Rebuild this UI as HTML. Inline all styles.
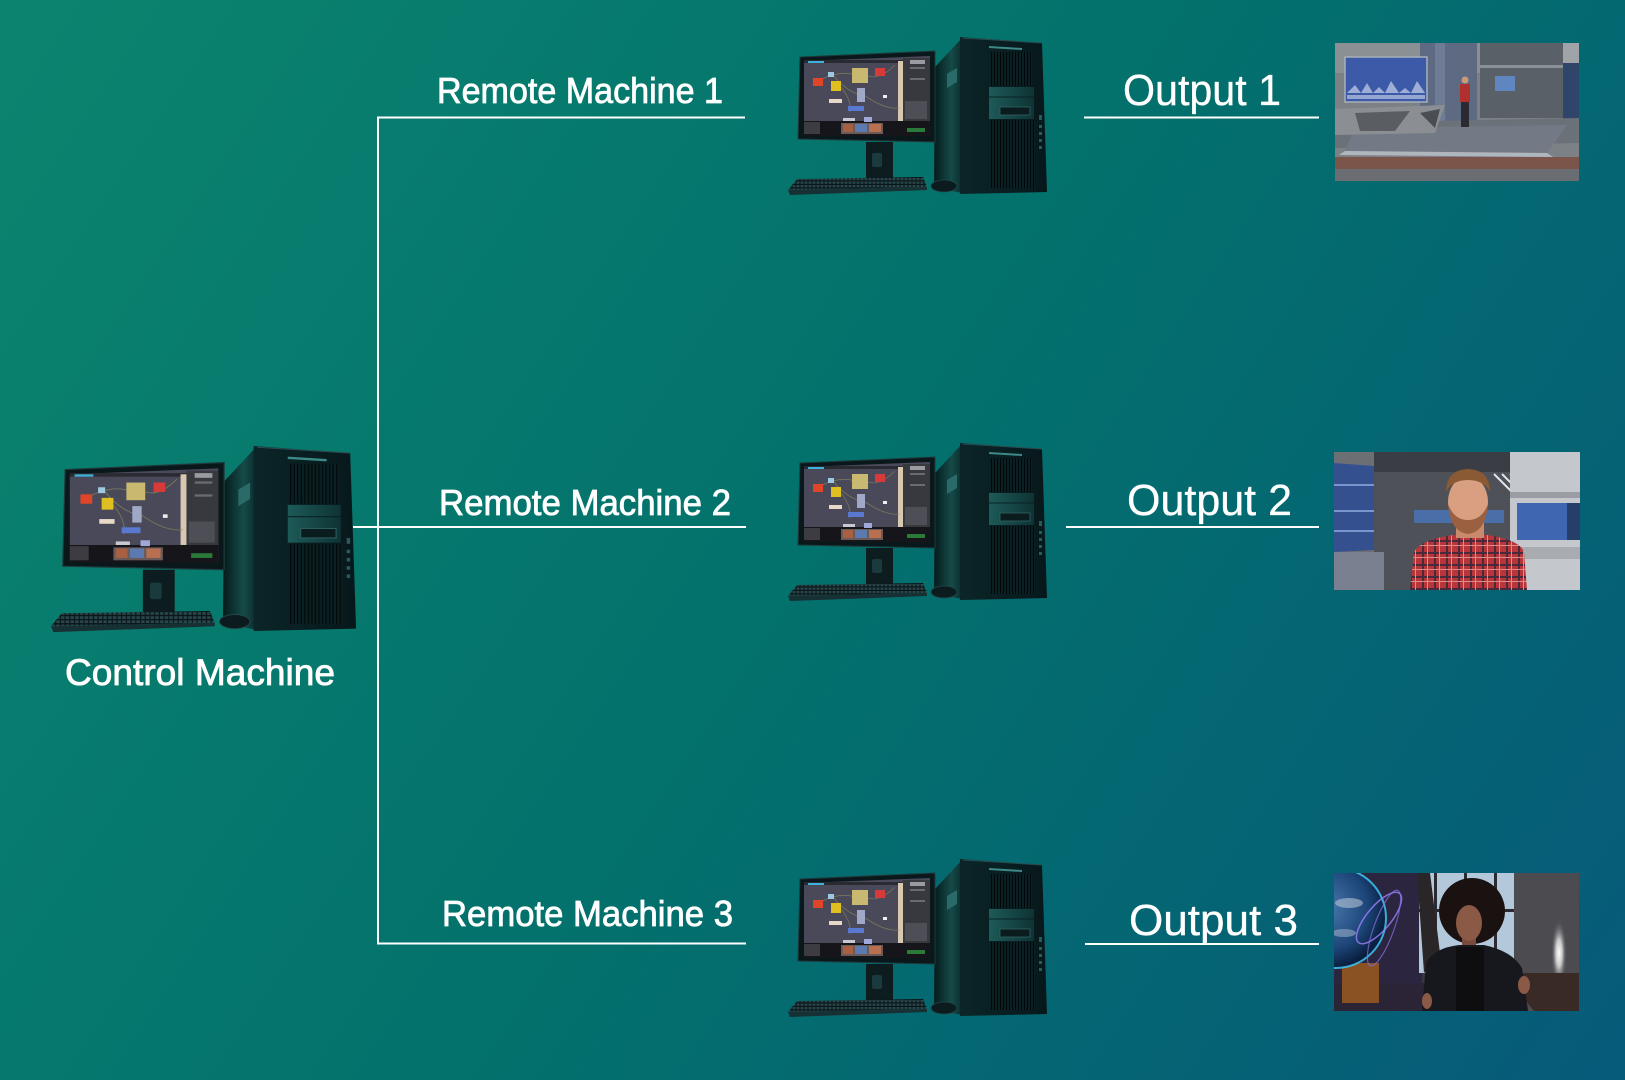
<!DOCTYPE html>
<html><head><meta charset="utf-8"><style>
html,body{margin:0;padding:0;width:1625px;height:1080px;overflow:hidden;background:#05706c}
svg{display:block}
text{font-family:"Liberation Sans",sans-serif;fill:#fff;stroke:#fff;stroke-width:0.5}
</style></head><body>
<svg width="1625" height="1080" viewBox="0 0 1625 1080" xmlns="http://www.w3.org/2000/svg">
<defs>
<linearGradient id="bg" gradientUnits="userSpaceOnUse" x1="0" y1="0" x2="1625" y2="1080">
<stop offset="0" stop-color="#0b846f"/><stop offset="0.5" stop-color="#03716c"/><stop offset="1" stop-color="#065a7a"/>
</linearGradient>
<linearGradient id="side" x1="0" y1="0" x2="1" y2="0">
<stop offset="0" stop-color="#061a1c"/><stop offset="0.6" stop-color="#154b48"/><stop offset="1" stop-color="#0a2a2b"/>
</linearGradient>
<linearGradient id="front" x1="0" y1="0" x2="1" y2="0">
<stop offset="0" stop-color="#0c2528"/><stop offset="1" stop-color="#07181b"/>
</linearGradient>
<linearGradient id="bay" x1="0" y1="0" x2="1" y2="0">
<stop offset="0" stop-color="#1d5a58"/><stop offset="1" stop-color="#0f3334"/>
</linearGradient>
<pattern id="vent" width="3" height="10" patternUnits="userSpaceOnUse"><rect width="3" height="10" fill="#0b2023"/><rect width="1" height="10" fill="#020809"/></pattern>
<pattern id="keys" width="4" height="3.5" patternUnits="userSpaceOnUse"><rect width="4" height="3.5" fill="#0a1619"/><rect x="0.5" y="0.5" width="3" height="2.3" fill="#29474b"/></pattern>
<pattern id="plaid" width="12" height="12" patternUnits="userSpaceOnUse"><rect width="12" height="12" fill="#b8363a"/><rect x="0" y="4" width="12" height="2" fill="#4a2a3a"/><rect x="4" y="0" width="2" height="12" fill="#4a2a3a"/><rect x="9" y="0" width="1" height="12" fill="#e08a8a"/><rect x="0" y="9" width="12" height="1" fill="#e08a8a"/></pattern>
<radialGradient id="globe" cx="0.4" cy="0.4" r="0.6"><stop offset="0" stop-color="#4a7ab0"/><stop offset="0.7" stop-color="#1c4578"/><stop offset="1" stop-color="#0a2040"/></radialGradient>
<radialGradient id="spot" cx="0.5" cy="0.5" r="0.5"><stop offset="0" stop-color="#ffffff"/><stop offset="0.4" stop-color="#e8e8e8" stop-opacity="0.8"/><stop offset="1" stop-color="#4c4b50" stop-opacity="0"/></radialGradient>
<g id="pc">
 <polygon points="175,47 203,17 203,173 174,168" fill="url(#side)"/>
 <polygon points="187,54 197,48 197,62 187,68" fill="#2a6a68"/>
 <polygon points="200,17 282,23 287,172 200,174" fill="url(#front)"/>
 <line x1="203" y1="18" x2="282" y2="23" stroke="#2a4c50" stroke-width="1"/>
 <polygon points="229,26 262,28 262,30 229,28" fill="#3c8a88"/>
 <rect x="230" y="32" width="42" height="34" fill="url(#vent)"/>
 <rect x="229" y="67" width="45" height="32" fill="url(#bay)"/>
 <line x1="229" y1="77" x2="274" y2="77" stroke="#0a2224" stroke-width="1"/>
 <rect x="240" y="87" width="30" height="8" fill="#0a1c1e" stroke="#2f6262" stroke-width="0.8"/>
 <rect x="230" y="100" width="45" height="68" fill="url(#vent)"/>
 <rect x="279" y="95" width="3" height="5" fill="#2a5a5a"/>
 <rect x="279" y="105" width="3" height="3" fill="#2a5a5a"/>
 <rect x="279" y="112" width="3" height="3" fill="#2a5a5a"/>
 <rect x="279" y="119" width="3" height="3" fill="#2a5a5a"/>
 <rect x="279" y="126" width="3" height="3" fill="#2a5a5a"/>
 <polygon points="40,37 175,31 175,122 38,119" fill="#0b181b" stroke="#1f3b3e" stroke-width="1"/>
 <polygon points="44,41 170,36 170,116 44,115" fill="#49495a"/>
 <rect x="44" y="40" width="126" height="3" fill="#2a2a32"/>
 <rect x="48" y="41" width="16" height="2" fill="#3fb0d8"/>
 <rect x="143" y="38" width="27" height="63" fill="#38383f"/>
 <rect x="138" y="41" width="5" height="60" fill="#d8c8b0"/>
 <rect x="150" y="40" width="15" height="4" fill="#9a9aa2"/>
 <rect x="150" y="47" width="15" height="2" fill="#6a6a72"/>
 <rect x="150" y="58" width="15" height="2" fill="#6a6a72"/>
 <rect x="145" y="81" width="22" height="18" fill="#4e4e56"/>
 <rect x="44" y="101" width="126" height="15" fill="#16161a"/>
 <rect x="44" y="102" width="16" height="12" fill="#3c3c42"/>
 <rect x="81" y="103" width="42" height="11" fill="#6a5a5a"/>
 <rect x="83" y="104" width="10" height="8" fill="#a86040"/>
 <rect x="95" y="104" width="12" height="8" fill="#5a7ab0"/>
 <rect x="109" y="104" width="12" height="8" fill="#b87050"/>
 <rect x="147" y="108" width="18" height="4" fill="#2a7a3a"/>
 <path d="M60,60 Q80,50 95,55 M74,56 Q85,70 100,75 M108,56 Q120,60 135,45 M80,66 Q92,80 90,92 M104,75 Q125,90 140,88" stroke="#8a8a5a" stroke-width="0.8" fill="none" opacity="0.7"/>
 <rect x="53" y="58" width="10" height="8" fill="#e0452a"/>
 <rect x="92" y="48" width="16" height="15" fill="#c8b870"/>
 <rect x="115" y="48" width="10" height="8" fill="#d83a3a"/>
 <rect x="68" y="52" width="6" height="5" fill="#9ec8e0"/>
 <rect x="71" y="61" width="10" height="10" fill="#e0c020"/>
 <rect x="97" y="68" width="8" height="14" fill="#a0a8c8"/>
 <rect x="123" y="75" width="4" height="3" fill="#eee"/>
 <rect x="69" y="79" width="13" height="4" fill="#e8d8c8"/>
 <rect x="88" y="86" width="16" height="5" fill="#5a78d0"/>
 <rect x="83" y="98" width="12" height="3" fill="#c8c8d0"/>
 <rect x="104" y="97" width="8" height="5" fill="#a0a8d8"/>
 <rect x="106" y="122" width="27" height="38" fill="#0c1c1f"/>
 <rect x="112" y="133" width="10" height="14" rx="2" fill="#1b3a3d"/>
 <polygon points="37,159 163,157 167,167 28,170" fill="url(#keys)"/>
 <polygon points="28,170 167,167 167,170 30,175" fill="#173034"/>
 <ellipse cx="184" cy="166" rx="13" ry="6" fill="#0c1b1e" stroke="#24474a" stroke-width="0.8"/>
</g>
</defs>
<rect width="1625" height="1080" fill="url(#bg)"/>

<use href="#pc" transform="translate(760,20)"/>
<use href="#pc" transform="translate(760,426)"/>
<use href="#pc" transform="translate(760,842)"/>
<use href="#pc" transform="translate(18,426) scale(1.178)"/>

<g stroke="#fff" stroke-width="2" fill="none">
 <line x1="378" y1="116.5" x2="378" y2="944.5"/>
 <line x1="377" y1="117.5" x2="745" y2="117.5"/>
 <line x1="353" y1="527" x2="746" y2="527"/>
 <line x1="377" y1="943.5" x2="746" y2="943.5"/>
 <line x1="1084" y1="117.5" x2="1319" y2="117.5"/>
 <line x1="1066" y1="527" x2="1319" y2="527"/>
 <line x1="1085" y1="944" x2="1319" y2="944"/>
</g>

<text x="437" y="103" font-size="36" textLength="286" lengthAdjust="spacingAndGlyphs" style="stroke-width:0.8">Remote Machine 1</text>
<text x="439" y="515" font-size="36" textLength="292" lengthAdjust="spacingAndGlyphs" style="stroke-width:0.8">Remote Machine 2</text>
<text x="442" y="926" font-size="36" textLength="291" lengthAdjust="spacingAndGlyphs" style="stroke-width:0.8">Remote Machine 3</text>
<text x="65" y="685" font-size="37" textLength="270" lengthAdjust="spacingAndGlyphs" style="stroke-width:0.8">Control Machine</text>
<text x="1123" y="105" font-size="44" textLength="158" lengthAdjust="spacingAndGlyphs" style="stroke-width:0.3">Output 1</text>
<text x="1127" y="515" font-size="44" textLength="165" lengthAdjust="spacingAndGlyphs" style="stroke-width:0.3">Output 2</text>
<text x="1129" y="935" font-size="44" textLength="169" lengthAdjust="spacingAndGlyphs" style="stroke-width:0.3">Output 3</text>

<!-- Output 1 -->
<svg x="1335" y="43" width="244" height="138" viewBox="0 0 244 138">
 <rect width="244" height="138" fill="#7c8186"/>
 <rect x="0" y="0" width="244" height="30" fill="#8b9095"/>
 <rect x="85" y="0" width="57" height="82" fill="#5d6a82"/>
 <rect x="100" y="0" width="10" height="82" fill="#6f7c95"/>
 <rect x="145" y="0" width="83" height="75" fill="#5a6068"/>
 <rect x="145" y="22" width="83" height="3" fill="#8a9098"/>
 <rect x="160" y="33" width="20" height="15" fill="#5f86c0"/>
 <rect x="228" y="0" width="16" height="90" fill="#30456a"/>
 <rect x="228" y="0" width="16" height="20" fill="#a0a4a8"/>
 <rect x="10" y="14" width="82" height="45" fill="#3c5aa8" stroke="#a8b0b8" stroke-width="1.5"/>
 <polyline points="12,50 20,42 26,50 32,40 38,50 44,44 50,50 56,38 64,50 70,45 76,50 82,38 90,50" fill="#c8d2ea" opacity="0.7"/>
 <rect x="12" y="52" width="78" height="4" fill="#d0d8f0" opacity="0.6"/>
 <polygon points="0,80 244,75 244,100 0,105" fill="#6b7178"/>
 <polygon points="20,85 232,82 212,110 10,108" fill="#737a85"/>
 <polygon points="10,108 212,110 218,114 4,112" fill="#b0b6be"/>
 <polygon points="0,66 110,62 100,90 0,92" fill="#8b8f93"/>
 <polygon points="20,70 75,68 60,88 25,88" fill="#5a5e62"/>
 <polygon points="85,70 105,66 100,85" fill="#4a4e52"/>
 <rect x="0" y="114" width="244" height="12" fill="#7b4a3a" opacity="0.8"/>
 <rect x="0" y="126" width="244" height="12" fill="#6a6e72"/>
 <circle cx="130" cy="37" r="3.5" fill="#c89a7a"/>
 <rect x="125" y="41" width="10" height="18" fill="#b03030"/>
 <rect x="126" y="59" width="8" height="25" fill="#2a2a30"/>
</svg>

<!-- Output 2 -->
<svg x="1334" y="452" width="246" height="138" viewBox="0 0 246 138">
 <rect width="246" height="138" fill="#6c6f74"/>
 <rect x="40" y="0" width="136" height="138" fill="#4e5158"/>
 <rect x="40" y="0" width="136" height="20" fill="#3a3d44"/>
 <rect x="80" y="58" width="90" height="13" fill="#4a6fa8"/>
 <path d="M160,22 L190,52 M168,22 L196,50 M176,22 L200,46" stroke="#e0e4ea" stroke-width="2"/>
 <polygon points="0,11 40,14 40,98 0,100" fill="#34508e"/>
 <rect x="0" y="32" width="40" height="2" fill="#9ab4e8" opacity="0.7"/>
 <rect x="0" y="58" width="40" height="2" fill="#9ab4e8" opacity="0.7"/>
 <rect x="0" y="78" width="40" height="2" fill="#9ab4e8" opacity="0.7"/>
 <rect x="0" y="100" width="50" height="38" fill="#7a8090"/>
 <rect x="176" y="0" width="70" height="138" fill="#c4c7cb"/>
 <rect x="176" y="40" width="70" height="6" fill="#9a9ea4"/>
 <rect x="183" y="51" width="50" height="37" fill="#3f66b0"/>
 <rect x="233" y="51" width="13" height="37" fill="#263e6a"/>
 <rect x="176" y="95" width="70" height="12" fill="#a8acb0"/>
 <path d="M76,138 L80,100 Q86,88 119,83 L153,83 Q186,88 190,100 L193,138 Z" fill="url(#plaid)"/>
 <rect x="122" y="68" width="28" height="18" fill="#c88a6a"/>
 <ellipse cx="134" cy="50" rx="20" ry="26" fill="#d8a080"/>
 <path d="M114,52 Q116,80 134,82 Q152,80 154,52 Q148,68 134,68 Q120,68 114,52 Z" fill="#9a6040"/>
 <path d="M112,40 Q112,18 134,17 Q156,18 156,40 Q150,28 134,28 Q118,28 112,40 Z" fill="#8a5a34"/>
</svg>

<!-- Output 3 -->
<svg x="1334" y="873" width="245" height="138" viewBox="0 0 245 138">
 <rect width="245" height="138" fill="#3a3540"/>
 <rect x="0" y="0" width="88" height="138" fill="#2b2540"/>
 <rect x="85" y="0" width="95" height="100" fill="#b4c8dc"/>
 <rect x="100" y="0" width="3" height="100" fill="#2a2a30"/>
 <rect x="130" y="0" width="3" height="100" fill="#2a2a30"/>
 <rect x="160" y="0" width="3" height="100" fill="#2a2a30"/>
 <rect x="85" y="36" width="95" height="3" fill="#2a2a30"/>
 <polygon points="83,0 96,0 106,80 90,100" fill="#2a2628"/>
 <rect x="180" y="0" width="65" height="138" fill="#4c4b50"/>
 <ellipse cx="225" cy="80" rx="8" ry="34" fill="url(#spot)"/>
 <polygon points="170,100 245,100 245,138 200,138" fill="#3a2a26"/>
 <rect x="0" y="110" width="90" height="28" fill="#2a2436"/>
 <rect x="8" y="90" width="37" height="40" fill="#8a5222"/>
 <circle cx="2" cy="45" r="50" fill="url(#globe)" stroke="#40d0ff" stroke-width="2" stroke-opacity="0.8"/>
 <ellipse cx="15" cy="30" rx="14" ry="5" fill="#d0d8e0" opacity="0.5"/>
 <ellipse cx="10" cy="60" rx="12" ry="4" fill="#d0d8e0" opacity="0.4"/>
 <ellipse cx="45" cy="45" rx="32" ry="12" transform="rotate(-50 45 45)" fill="none" stroke="#a080ff" stroke-width="1.5" opacity="0.8"/>
 <ellipse cx="50" cy="55" rx="40" ry="10" transform="rotate(-70 50 55)" fill="none" stroke="#8a70e0" stroke-width="1.2" opacity="0.7"/>
 <circle cx="138" cy="38" r="33" fill="#1a1210"/>
 <rect x="128" y="60" width="14" height="15" fill="#7a4a3a"/>
 <ellipse cx="135" cy="50" rx="13" ry="18" fill="#8a5a46"/>
 <path d="M88,138 L92,90 Q100,75 125,72 L150,72 Q178,78 188,95 L194,138 Z" fill="#16181e"/>
 <rect x="122" y="74" width="28" height="64" fill="#0e0e10"/>
 <ellipse cx="93" cy="128" rx="5" ry="8" fill="#8a5a46"/>
 <ellipse cx="190" cy="112" rx="6" ry="9" fill="#8a5a46"/>
</svg>
</svg>
</body></html>
